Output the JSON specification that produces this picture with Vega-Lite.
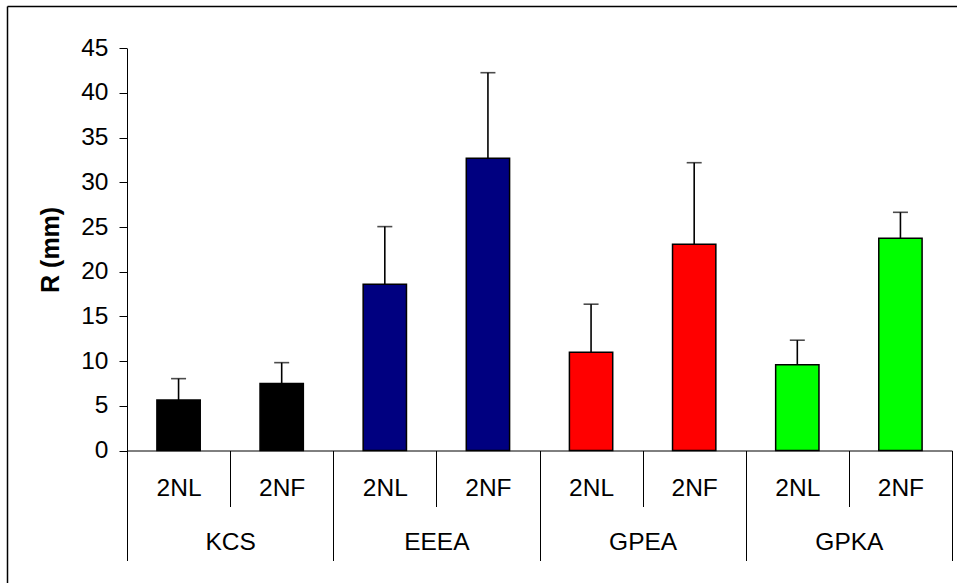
{
  "$schema": "https://vega.github.io/schema/vega-lite/v6.json",
  "width": 950,
  "height": 577,
  "autosize": "none",
  "padding": {"left": 7, "top": 6, "right": 0, "bottom": 0},
  "background": "#ffffff",
  "config": {
    "view": {"stroke": null},
    "font": "Liberation Sans"
  },
  "data": {
    "values": [
      {"key": "KCS|2NL", "group": "KCS", "treat": "2NL", "mean": 5.65, "hi": 8.04},
      {"key": "KCS|2NF", "group": "KCS", "treat": "2NF", "mean": 7.5, "hi": 9.83},
      {"key": "EEEA|2NL", "group": "EEEA", "treat": "2NL", "mean": 18.6, "hi": 25.05},
      {"key": "EEEA|2NF", "group": "EEEA", "treat": "2NF", "mean": 32.7, "hi": 42.27},
      {"key": "GPEA|2NL", "group": "GPEA", "treat": "2NL", "mean": 11.0, "hi": 16.37},
      {"key": "GPEA|2NF", "group": "GPEA", "treat": "2NF", "mean": 23.07, "hi": 32.2},
      {"key": "GPKA|2NL", "group": "GPKA", "treat": "2NL", "mean": 9.6, "hi": 12.34},
      {"key": "GPKA|2NF", "group": "GPKA", "treat": "2NF", "mean": 23.74, "hi": 26.65}
    ]
  },
  "resolve": {
    "scale": {"x": "independent", "y": "independent"},
    "axis": {"x": "independent", "y": "independent"}
  },
  "layer": [
    {
      "layer": [
        {
          "mark": {"type": "bar", "stroke": "#000000", "strokeWidth": 1.5, "width": {"band": 0.42}},
          "encoding": {
            "x": {
              "field": "key", "type": "nominal", "sort": null,
              "scale": {"range": [120, 945], "paddingInner": 0, "paddingOuter": 0},
              "axis": {
                "orient": "bottom", "offset": -132.5, "title": null,
                "tickBand": "extent", "tickSize": 56, "tickColor": "#000000", "tickWidth": 1,
                "domainColor": "#000000", "domainWidth": 1,
                "labelExpr": "split(datum.label, '|')[1]",
                "labelFont": "Liberation Sans", "labelFontSize": 24.5, "labelColor": "#000000",
                "labelPadding": -30, "labelAngle": 0, "labelOverlap": false, "grid": false
              }
            },
            "y": {
              "field": "mean", "type": "quantitative",
              "scale": {"domain": [0, 45], "range": [444.5, 42.3], "nice": false, "zero": true},
              "axis": {
                "orient": "left", "offset": -120, "values": [0, 5, 10, 15, 20, 25, 30, 35, 40, 45],
                "title": "R (mm)", "titleFont": "Liberation Sans", "titleFontSize": 25, "titleFontWeight": "bold",
                "titleColor": "#000000", "titlePadding": 17,
                "tickSize": 8, "tickColor": "#000000", "domainColor": "#000000",
                "labelFont": "Liberation Sans", "labelFontSize": 24.5, "labelColor": "#000000",
                "labelPadding": 11, "grid": false
              }
            },
            "color": {
              "field": "group", "type": "nominal",
              "scale": {"domain": ["KCS", "EEEA", "GPEA", "GPKA"], "range": ["#000000", "#000080", "#FF0000", "#00FF00"]},
              "legend": null
            }
          }
        },
        {
          "mark": {"type": "rule", "color": "#000000", "strokeWidth": 1.6},
          "encoding": {
            "x": {"field": "key", "type": "nominal", "sort": null},
            "y": {"field": "mean", "type": "quantitative"},
            "y2": {"field": "hi"}
          }
        },
        {
          "mark": {"type": "tick", "color": "#000000", "orient": "horizontal", "size": 15, "thickness": 1.6},
          "encoding": {
            "x": {"field": "key", "type": "nominal", "sort": null},
            "y": {"field": "hi", "type": "quantitative"}
          }
        }
      ]
    },
    {
      "mark": {"type": "tick", "opacity": 0},
      "encoding": {
        "x": {
          "field": "group", "type": "nominal", "sort": null,
          "scale": {"range": [120, 945], "paddingInner": 0, "paddingOuter": 0},
          "axis": {
            "orient": "bottom", "offset": -132.5, "title": null, "domain": false,
            "tickBand": "extent", "tickSize": 110, "tickColor": "#000000", "tickWidth": 1,
            "labelFont": "Liberation Sans", "labelFontSize": 24.5, "labelColor": "#000000",
            "labelPadding": -30.5, "labelAngle": 0, "labelOverlap": false, "grid": false
          }
        },
        "y": {"field": "mean", "type": "quantitative", "axis": null}
      }
    },
    {
      "mark": {"type": "point", "opacity": 0},
      "encoding": {
        "x": {
          "field": "mean", "type": "quantitative",
          "axis": {"orient": "top", "offset": 0, "title": null, "labels": false, "ticks": false, "grid": false,
                   "domain": true, "domainColor": "#000000", "domainWidth": 1.5}
        },
        "y": {
          "field": "hi", "type": "quantitative",
          "axis": {"orient": "left", "offset": 0, "title": null, "labels": false, "ticks": false, "grid": false,
                   "domain": true, "domainColor": "#000000", "domainWidth": 1.5}
        }
      }
    }
  ]
}
